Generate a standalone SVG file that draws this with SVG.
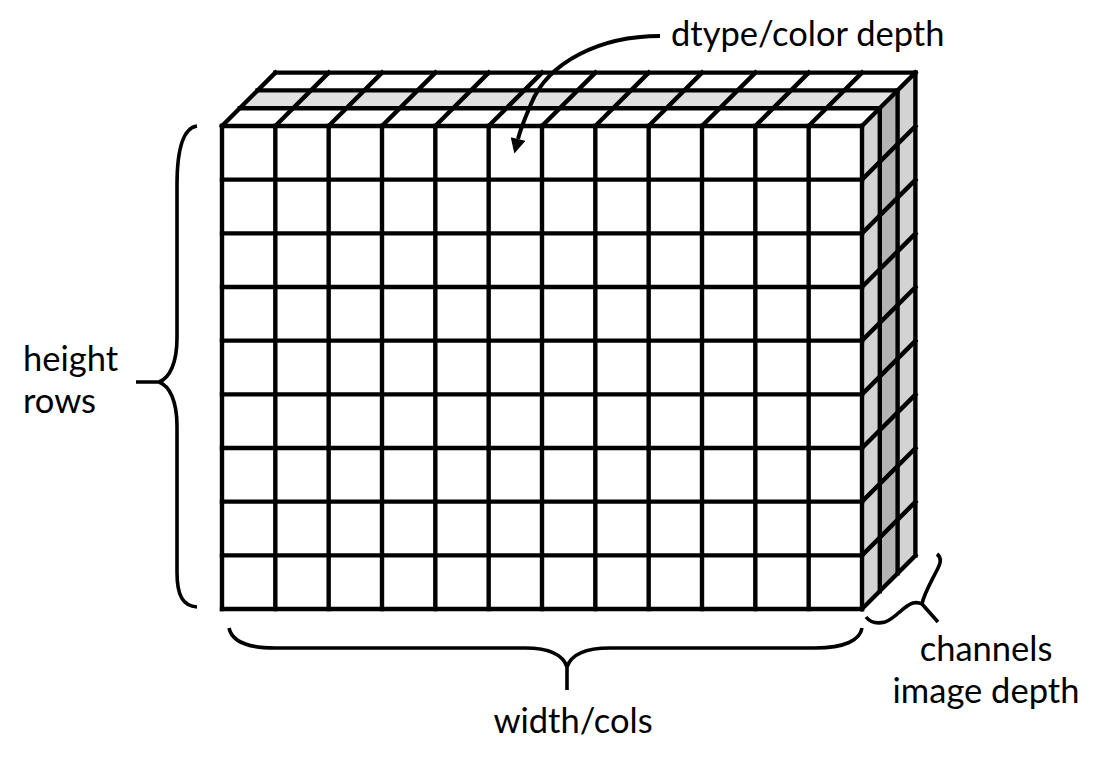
<svg xmlns="http://www.w3.org/2000/svg" width="1104" height="769" viewBox="0 0 1104 769">
  <style>
    .g { stroke: #000; stroke-width: 4.4; fill: none; stroke-linecap: square; }
    .br { stroke: #000; stroke-width: 3.6; fill: none; stroke-linecap: butt; stroke-linejoin: round; }
    .lbl { font-family: Lato, "Open Sans", "Liberation Sans", sans-serif; font-size: 34.5px; fill: #000; }
  </style>
  <defs>
    <marker id="ah" viewBox="0 0 10 10" refX="0" refY="5" markerUnits="userSpaceOnUse" markerWidth="16" markerHeight="15" orient="auto">
      <path d="M0,0 L10,5 L0,10 z" fill="#000"/>
    </marker>
  </defs>
  <rect width="1104" height="769" fill="#fff"/>

  <g id="cube">
    <!-- faces -->
    <rect x="222" y="126" width="640" height="483" fill="#fff"/>
    <polygon points="222,126 862,126 915.4,72.6 275.4,72.6" fill="#fff"/>
    <polygon points="239.8,108.2 879.8,108.2 897.6,90.4 257.6,90.4" fill="#e0e0e0"/>
    <polygon points="862,126 879.8,108.2 879.8,591.2 862,609" fill="#d3d3d3"/>
    <polygon points="879.8,108.2 897.6,90.4 897.6,573.4 879.8,591.2" fill="#b3b3b3"/>
    <polygon points="897.6,90.4 915.4,72.6 915.4,555.6 897.6,573.4" fill="#d3d3d3"/>
    <!-- front grid verticals -->
    <path class="g" d="M222,126V609 M275.33,126V609 M328.67,126V609 M382,126V609 M435.33,126V609 M488.67,126V609 M542,126V609 M595.33,126V609 M648.67,126V609 M702,126V609 M755.33,126V609 M808.67,126V609 M862,126V609"/>
    <!-- front grid horizontals -->
    <path class="g" d="M222,126H862 M222,179.67H862 M222,233.33H862 M222,287H862 M222,340.67H862 M222,394.33H862 M222,448H862 M222,501.67H862 M222,555.33H862 M222,609H862"/>
    <!-- top face -->
    <path class="g" d="M239.8,108.2H879.8 M257.6,90.4H897.6 M275.4,72.6H915.4"/>
    <path class="g" d="M222,126l53.4,-53.4 M275.33,126l53.4,-53.4 M328.67,126l53.4,-53.4 M382,126l53.4,-53.4 M435.33,126l53.4,-53.4 M488.67,126l53.4,-53.4 M542,126l53.4,-53.4 M595.33,126l53.4,-53.4 M648.67,126l53.4,-53.4 M702,126l53.4,-53.4 M755.33,126l53.4,-53.4 M808.67,126l53.4,-53.4 M862,126l53.4,-53.4"/>
    <!-- right face -->
    <path class="g" d="M879.8,108.2V591.2 M897.6,90.4V573.4 M915.4,72.6V555.6"/>
    <path class="g" d="M862,179.67l53.4,-53.4 M862,233.33l53.4,-53.4 M862,287l53.4,-53.4 M862,340.67l53.4,-53.4 M862,394.33l53.4,-53.4 M862,448l53.4,-53.4 M862,501.67l53.4,-53.4 M862,555.33l53.4,-53.4 M862,609l53.4,-53.4"/>
  </g>

  <g id="connectors">
    <path id="arrow-dtype" d="M660,36 C600,36 548,62 531,104 C526,116 521,127 518,139" stroke="#000" stroke-width="4" fill="none" marker-end="url(#ah)"/>
    <path id="brace-height" class="br" d="M197,126 C183,128 177,150 177,185 L177,338 C177,362 170,378 159,382 L136,382 M159,382 C170,386 177,402 177,426 L177,572 C177,596 183,606 197,607"/>
    <path id="brace-width" class="br" d="M229,628 C232,642 248,648 275,648 L525,648 C550,648 563,655 567,667 L567,690 M567,667 C571,655 584,648 610,648 L815,648 C845,648 860,640 862,628"/>
    <path id="brace-channels" class="br" d="M866,617 C870,622 877,624 885,622 C895,619 903,606 913,603 C917,602 920,603 922,604 L938,622 M922,604 C924,594 930,584 936,572 C941,563 942,558 937,554"/>
  </g>

  <g id="label-dtype"><text class="lbl" x="671" y="46">dtype/color depth</text></g>
  <g id="label-height"><text class="lbl" x="23" y="371">height</text><text class="lbl" x="23" y="413">rows</text></g>
  <g id="label-width"><text class="lbl" x="573" y="733" text-anchor="middle">width/cols</text></g>
  <g id="label-channels"><text class="lbl" x="986" y="661" text-anchor="middle">channels</text><text class="lbl" x="986" y="703" text-anchor="middle">image depth</text></g>
</svg>
